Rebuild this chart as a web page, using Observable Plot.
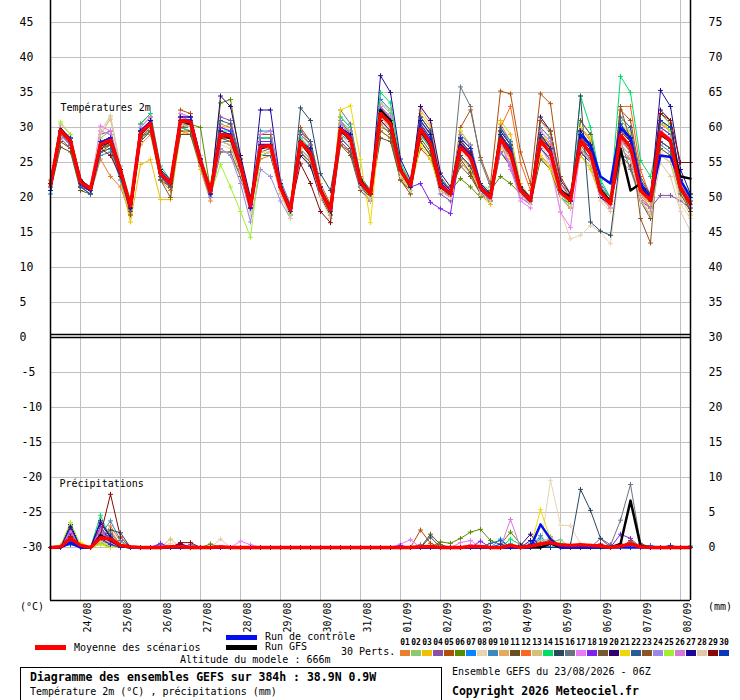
<!DOCTYPE html>
<html><head><meta charset="utf-8">
<script src="https://cdn.jsdelivr.net/npm/d3@7"></script>
<script src="https://cdn.jsdelivr.net/npm/@observablehq/plot@0.6"></script>
<style>
body{margin:0;background:#fff;}
#wrap{position:relative;width:740px;height:700px;overflow:hidden;font-family:"DejaVu Sans Mono",monospace;color:#000;background:#fff;}
#wrap svg{position:absolute;left:0;top:0;}
.t{position:absolute;white-space:pre;font-size:10px;line-height:1;transform:translateY(-50%);}
.b{font-weight:bold;font-size:11.5px;}
.bar{position:absolute;}
</style></head><body><div id="wrap"></div>
<script>
// ---- categories / labels ----
const dayLabels = ["24/08","25/08","26/08","27/08","28/08","29/08","30/08","31/08","01/09","02/09","03/09","04/09","05/09","06/09","07/09","08/09"];
const dayHours = [18,42,66,90,114,138,162,186,210,234,258,282,306,330,354,378];
const tempTicks = [0,5,10,15,20,25,30,35,40,45];
const lowTicks = [-5,-10,-15,-20,-25,-30];
const pertIds = ["01","02","03","04","05","06","07","08","09","10","11","12","13","14","15","16","17","18","19","20","21","22","23","24","25","26","27","28","29","30"];
const pertColors = ["#e8802e","#8cc86e","#f0c000","#8a4fa8","#b04e0a","#5a8a00","#0a84ff","#e8d4b0","#3a8abe","#e8a860","#6a5020","#f86820","#d4c07a","#00dc64","#284860","#687480","#e87cf8","#8020f0","#7a5830","#300070","#f0d800","#285c98","#8c5420","#9c88e8","#a0f030","#d878d8","#1c0898","#e0c8a8","#880808","#0838b8"];

// ---- 2 m temperature (°C), every 6 h from 23/08 06Z ----
const tMean = [21.8, 29.6,28.0,22.2,21.2, 27.6,28.2,23.8,18.8, 29.2,30.6,23.4,22.0, 31.0,30.8,25.2,20.8, 29.0,28.8,24.6,18.8, 27.3,27.4,21.4,18.2, 28.0,26.3,21.0,18.2, 29.8,28.4,22.2,20.5, 32.0,30.5,23.9,21.7, 29.8,27.7,21.7,20.5, 27.2,25.7,21.4,20.0, 28.4,26.3,21.0,19.6, 28.1,26.4,20.8,19.6, 28.1,26.3,20.8,19.1, 28.9,27.2,21.0,19.6, 29.3,28.1,21.4,19.1];
const tControl = [21.8, 29.6,28.2,22,21, 27.8,28.5,24,18.5, 29.5,30.8,23.5,22, 31,31,25.5,20.5, 29,29,24.5,18.5, 27.5,27.5,21.5,18, 28,26.5,21,18, 30,28.5,22,20.5, 32,30.5,24,21.5, 30,28,22,20.5, 27.5,26,21.5,20, 28.5,26.5,21,19.5, 28,26.5,21,19.5, 29,27.5,23,22, 30,28.5,22,20, 26,25.8,22.5,20];
const tGFS = [21.8, 29.8,28,22.5,21, 27.5,28,24,18.5, 29,30.5,23.5,22, 31,30.5,25,21, 29,28.5,24.5,19, 27,27.5,21.5,18.5, 28,26,21,18.5, 29.5,28.5,22.5,20.5, 32.5,31,24,21.5, 29.5,27.5,21.5,20.5, 27.5,26,21.5,20, 28.5,26.5,21,19.5, 28,26.5,21,20, 28,26.5,21,19.5, 27,21,22,19.5, 29,28,23,22.7];
const t01 = [21, 28,27,21.5,20.5, 25.5,23,21.5,17.5, 27.5,29,22.5,21, 29.5,29,24,19.5, 30.5,30,25.5,19.5, 25.5,26,20.5,17.5, 29.5,27.5,21.5,19, 28,26.5,21.5,19.5, 30,29.5,23,21, 31.5,29.5,22.5,21, 25,23.5,20.5,19, 30.5,28,21.5,20, 26,24.5,20,18.5, 30,28,21.5,19.5, 27,25.5,20.5,18.5, 31,29.5,22,19.5];
const t02 = [22.5, 30,28.5,22.5,21.5, 28.5,29.5,24.5,19.5, 30,31.5,24,22.5, 32,31.5,26,21.5, 27,26,23,19, 29,29,22,19, 26.5,24.5,20,17.5, 31.5,30,23,21, 33.5,32,24.5,22.5, 28,26,21,20, 29.5,27.5,22,21, 26.5,24.5,20.5,19.5, 30,28.5,22,20.5, 26,24.5,20,18.5, 31,29.5,22,20.5, 27,26,20.5,18.5];
const t03 = [21.5, 29,27.5,22,21.5, 26.5,27,22.5,16.5, 24.7,25.4,19.7,19.7, 29,29.5,24,20, 30,30.5,25,18, 28.5,28.5,22,18.5, 27,25.5,20.5,18.5, 30.5,29.5,23,21, 29.5,28.5,22.5,20.5, 32,30,23,21, 26,24,20.5,19, 31,29,22,20, 29.5,27.5,21,19.5, 26,24,20,18.5, 30.5,29,21.5,20, 28,27,21,18.5];
const t04 = [21, 28.5,27,21.5,21, 29,29.5,23.5,19.5, 30.5,32,24,22.5, 30,30,24.5,20.5, 31.5,31,25.5,19.5, 26,26.5,21,18, 29,27.5,21.5,18.5, 28,26.5,21.5,19.5, 33,31.5,24.5,22, 28,26,20.5,19.5, 29,27.5,22,20.5, 26.5,24.5,20,19, 28.5,27,20.5,19.5, 29,27.5,21,19.5, 25,24,19.5,18.5, 20.3,20.3,19.5,18.5];
const t05 = [22, 29.5,28.5,22.5,21.5, 27,28,24,19, 28.5,30,23,21.5, 32.5,32,25.5,21.5, 28,28,24,19.5, 28,28,22,18.5, 30,28,22,19, 27.5,26.5,21.5,20, 31,30,24,22, 27,25.5,21.5,20.5, 30,32.5,25.7,22, 35.2,34.8,26.5,22, 34.8,33.4,23,20.5, 28,26.5,21,19, 32.5,31,23,20.5, 30.5,29.5,22.5,20];
const t06 = [21.5, 29,28,22,21, 26.5,27.5,23.5,19.5, 28.5,30,23,22, 30,30.5,30,21, 33.5,34,25.5,19, 26,26.5,21,18, 27,25.5,20.5,18, 31,29,22.5,21, 30.5,29,23,21.5, 30.5,28.5,22.5,21, 22.7,21.5,20,21, 23,22,20.5,19.5, 27,25.5,20.5,19.5, 30,28.5,21.5,20, 27.5,26,20.5,19, 32,30.5,22.5,20];
const t07 = [20.5, 30,28.5,22,21, 28,28.5,23,18, 29.5,31,23,21.5, 31.5,31.5,25,20, 30,29.5,24,18, 28.5,28.5,21.5,18.5, 26.5,25,20.5,17.5, 30.5,29,22,20.5, 34,32.5,24.5,22, 29,27,21.5,20, 28,26.5,21.5,20, 30,28,21.5,19.5, 27,25.5,20,19, 31,29,22,20, 29.5,28,21.5,19.5, 28,27,21,18.5];
const t08 = [22, 30,28.5,22.5,21.5, 29,31.5,24,18.5, 30,31.5,24,22.5, 32,31,25,20.5, 27.5,27,23.5,17.5, 26,26.5,20.5,17.5, 28.5,27,21,17.5, 29,27.5,22,20, 31,30,23.5,21, 30.5,28.5,22,20.5, 26.5,25,21,19.5, 27.5,25.5,20.5,19, 28,24,18,14.1, 14.6,16,15,13.4, 25,24,19.5,18, 26.5,25,19,17];
const t09 = [21, 29,27.5,21.5,20.5, 26,26.5,22.5,18, 28,29.5,23,21.5, 30,29.5,24.5,20, 28,28,24.5,18.5, 29.5,29.5,22.5,19, 28,26.5,21,18.5, 29,28,22,20.5, 33,31.5,24.5,22, 31,29,23,21, 28.5,26,21.5,20, 29,27,21.5,20, 30,28.5,22,20.5, 28,26,21,19, 30.5,28.5,22,20, 27.5,26.5,21.5,19];
const t10 = [22.5, 29.5,28,22.5,21.5, 27,27.5,24,19, 29.5,30.5,24,22, 30,29.5,25.5,21, 29.5,29,24.5,19.5, 27,27,21.5,18.5, 29.5,28,22,18.5, 30,28.5,22.5,21, 31,29.5,24,22, 32.5,30.5,22.5,20.5, 27,25.5,22,20.5, 29.5,27.5,21.5,20, 31,29,22,20.5, 26.5,25,20.5,18.5, 28,27,21.5,20, 30.5,29.5,22,19.5];
const t11 = [21, 27.2,26.5,21,20.5, 27,27.5,23.5,19, 28,29.5,22.5,21.5, 29,29,24.5,20.5, 28,27.5,23.5,18.5, 26,26,21,18, 27,25.5,20.5,18, 28.5,27,21.5,20, 28.5,28,22.5,21, 28,26,21,20, 25.5,23.5,20.5,19.5, 26.5,24.5,20.5,19, 27,25.5,20.5,19, 27.5,25.5,20.5,19, 26,24.5,19.5,17, 28,27,21,19];
const t12 = [21.5, 30,28.5,22,21, 28,28.5,24.5,18.5, 29.5,31,23.5,22, 31.5,31,25,20.5, 29,29,24.5,19, 27.5,27.5,21.5,18, 28,26.5,21,18, 30,28.5,22,20.5, 32.5,31,24,21.5, 30,28,22,20.5, 28,26.5,21.5,20, 30,33,25,21, 29,27.5,21,19.5, 28.5,27,21,19.5, 33,33,24,20, 30,29,22,19.5];
const t13 = [22, 30.5,29,22.5,21.5, 29,31.2,24.5,19, 29,30.5,23.5,22, 31,30.5,25,21, 28.5,28,24,19, 27.5,27.5,21.5,18.5, 28,26,21,18, 29.5,28.5,22,20.5, 33.5,32.5,24.5,22, 30.5,29,22.5,21, 28,26,21.5,20, 28.5,27,21.5,20, 29,27,21,19.5, 28.5,27,21,19.5, 29,27.5,21.5,20, 26,25,20,17.5];
const t14 = [21.5, 29.5,28,22,21, 27.5,28,23.5,18.5, 30.5,32,24.5,22.5, 30,29.5,24.5,20, 29.5,29.5,25,19.5, 28.5,28.5,22,18.5, 28.5,27,21.5,18.5, 31.5,30,23,21, 35,33.5,25,22, 29,27,21.5,20.5, 27,25.5,21.5,20.5, 28.5,26.5,21,20, 25.5,24,20,19, 34.5,30,22.5,20, 37.3,35,25.3,23, 30,29,22.5,20.5];
const t15 = [21, 29,27.5,22,21, 27,28,23.5,19, 29,30.5,23,22, 31,30.5,25,20.5, 29,28.5,24.5,19, 27,27,21,18.5, 32.8,31,23.4,21, 29.5,28,22,20.5, 32,30.5,24,21.5, 29.5,27.5,21.5,20.5, 27.5,26,21.5,20, 28.5,26.5,21,19.5, 28,26.5,21,19.5, 34.5,16.5,15.2,14.6, 26,25.5,20.5,19, 29,28,21.5,19.5];
const t16 = [21.5, 29,28,22,21, 27,27.5,23,18.5, 28.5,30,23,21.5, 30.5,30,24.5,20.5, 28.5,28.5,24,18.5, 27,27,21,18, 28,26,20.5,18, 32.5,30.5,23,21, 32,30.5,24,21.5, 30,28,22,21, 35.8,33,25.3,21.5, 28,26,21,19.5, 28,26.5,20.5,19.5, 28,26,20.5,19, 28,24,20,18.5, 29,28,21.5,19];
const t17 = [22, 29.5,28,22.5,21.5, 30.2,29.5,24,19, 30,31.5,24,22.5, 32,31.5,25.5,21, 29.5,29,24.5,19, 27,27,21,18, 28,26,20.5,18, 30.5,29,22.5,20.5, 33,31.5,24,22, 31,29,22,21, 27.5,25.5,21,20, 28,24.5,19.5,18.5, 27,25,17.9,15.7, 27,25,20,18.5, 28,26.5,20.5,19, 29.5,28,21.5,18.5];
const t18 = [21.5, 29.5,28,22,21, 28,28.5,24,18.5, 29.5,31,24,22, 31.5,31.5,25.5,20.5, 30,29.5,25,19, 28,28,21.5,18, 28,26,21,18, 30,28.5,22,20.5, 33,31,24,21.5, 22,19.3,18.4,17.7, 27,25.5,21,19.5, 28,26,21,19, 28,26,20.5,19, 28.5,26.5,20.5,19, 29,27,21,19.5, 30,29,22,19.5];
const t19 = [21, 28,27,21.5,21, 27.5,27.5,23.5,17.5, 28.5,29.5,22.5,20, 30,30,24.5,20, 26.5,26.5,23,18, 26.5,27,21,17.5, 27.5,26,20.5,17.5, 27.5,26,21,19.5, 29.5,28.5,22.5,20.5, 31.5,29.5,22.5,21, 24.5,23,20.5,19.5, 28,25.5,20.5,19, 25.5,24,20,18.5, 31,29,21.5,19.5, 28.5,26.5,19.5,17.5, 27,26,20.5,18];
const t20 = [22, 30,28.5,22,21, 28,28.5,24,19, 29.5,31,23.5,22, 31,31,25,20.5, 34.5,33,26,20, 27.5,27.5,21.5,18.5, 26,24.5,20,17.5, 30,29,22.5,21, 31,29.5,23.5,21.5, 33,31,23.5,21.5, 26,24.5,21,20, 29.5,27.5,21.5,20, 31.5,29.5,22.5,20.5, 26.5,25,20,19, 30,28,21.5,20, 32.5,31,22.5,20];
const t21 = [21.5, 29.5,28,22,21, 27.5,28,23.5,19, 29,30.5,23.5,22, 30.5,30.5,25,21, 28.5,28.5,24.5,18.5, 27,27.5,21.5,18, 28,26.5,21,18, 32.5,33.1,25.4,16.4, 31.5,30,23.5,21, 27.5,25.5,21,20, 29.5,27.5,22,20.5, 27,25.5,21,20, 26,24,20.5,19, 30,28.5,21.5,19.5, 27,25.5,20.5,19, 31,29.5,22,19.5];
const t22 = [21, 29,27.5,21.5,20.5, 26.5,27,23,18, 29,30.5,23,21.5, 30.5,30.5,24.5,20.5, 31,30.5,25,19.5, 26,26,21,18, 29.5,28,21.5,18.5, 28.5,27,21.5,20, 32,30.5,23.5,21.5, 31.5,29.5,22,21, 26,24.5,21,20, 30,27.5,21.5,19.5, 27,25.5,20.5,19.5, 29.5,27.5,21.5,19.5, 31.5,30,22.5,20.5, 28,27,21.5,19];
const t23 = [22, 29.5,28,22,21, 27,27.5,23.5,18, 29,30.5,23.5,21.5, 29.5,29.5,24.5,20, 28.5,28,24,18.5, 29,29,22,18.5, 26.5,25,20.5,17.5, 29.5,28,22,20, 31.5,30,23.5,21.5, 28.5,26.5,21,20, 28,26.5,21.5,20, 29,27,21,19.5, 31,29.5,22,20, 27,25.5,20.5,19, 33,28,17,13.5, 31,30,21.5,18];
const t24 = [21.5, 29,27.5,22,21, 27.5,28,23.5,18.5, 29,30.5,23.5,22, 30.5,30,24.5,20, 27,26,22,16.5, 24,23,19.5,17, 28,26.5,21,18, 31,29.5,22.5,21, 32.5,31,24,21.5, 29.5,27.5,21.5,20, 29,27.5,22,20.5, 26.5,25,20.5,19, 28,26.5,20.5,19.5, 27,25.5,20.5,19, 29.5,28,21.5,20, 29.5,28.5,22,19.5];
const t25 = [22, 30.8,29,22.5,21.5, 28,28.5,24,19.5, 29.5,30.5,24,22, 31,30.5,25,20.5, 24.7,21.5,18,14.3, 26,26.5,21,17.5, 27.5,26,20.5,17.5, 29.5,28,22,20, 31.5,30,23.5,21, 29.5,27.5,21.5,20.5, 27.5,26,21.5,20, 29,27,21.5,19.5, 28.5,27,21,19.5, 28.5,27,21,19.5, 29.5,28,22,20, 31,29.5,22,20];
const t26 = [22, 30,28.5,22.5,21.5, 29.5,29,24,19, 30,31.5,24,22.5, 31.5,31,25,21, 29,29,24.5,19, 29,29.5,22,19, 27,25.5,20.5,18, 30,28.5,22.5,20.5, 33,31,24,21.5, 30.5,28.5,22,21, 28,26.5,21.5,20, 28,24,20,19, 29.5,28,21.5,20, 28.5,26.5,20.5,19, 27,25.5,20,18.5, 29.5,28.5,21.5,19];
const t27 = [21, 29.5,28,22,21, 27.5,28.5,24,18.5, 29.5,31,24,22.5, 31.5,31.5,25.5,21, 29.5,29,25,19, 32.5,32.5,22,18.5, 28,27,21.5,18, 30,29,22.5,20.5, 37.4,35,25.5,22.5, 31,29,22.5,21, 28.5,27,22,20.5, 29,27,21.5,20, 29,27,21,19.5, 29.5,27.5,21,19.5, 30,28.5,22,20, 35.3,33,24,20.5];
const t28 = [22, 29.5,28,22.5,21.5, 29.5,31.7,24.5,18.5, 29,30,23.5,22, 30.5,30,24.5,20.5, 28,27.5,23.5,18, 26.5,26.5,20.5,17, 27,25.5,20,17, 29,27.5,21.5,19.5, 31.5,30,23,21, 29.5,27.5,21,20, 27,25,20.5,19.5, 27.5,25.5,20.5,19, 27.5,25.5,20,18.5, 27,25,19.5,18, 27.5,26,19.5,17.5, 25,23,18,15.2];
const t29 = [22, 29.5,28,22.5,21.5, 27,26,23,18.5, 29,30.5,23.5,22, 31,30.5,25,20.5, 28.5,28.5,24.5,18.5, 27.5,27.5,21.5,18.5, 24.8,22,18,16.4, 29.5,28,22,20.5, 32,30.5,24,21.5, 29.5,27.5,21.5,20.5, 28,26.5,21.5,20.5, 29,27,21.5,20, 28.5,27,21,19.5, 28.5,27,21,19.5, 29.5,28,22,20.5, 32,31,25,25];
const t30 = [21, 29.5,28.5,22,21, 28,28.5,23.5,18.5, 29.5,30.5,23.5,22, 31,31,25,20.5, 29,29,24.5,18.5, 27.5,27.5,21.5,18, 28,26.5,21,18, 30,28.5,22,20.5, 32.5,31,24,21.5, 30.5,28.5,22,20.5, 28.5,27,22,20.5, 29,27,21.5,20, 29,27,21,19.5, 29,27,21,19.5, 30.5,28.5,22,20, 31,30,22.5,20];

// ---- precipitation (mm per 6 h): [step, mm]; steps not listed are dry ----
const pMean = [[1,0.1],[2,1.3],[3,0.3],[5,1.4],[6,1.2],[7,0.3],[8,0.1],[12,0.1],[13,0.1],[17,0.1],[37,0.1],[38,0.15],[42,0.15],[43,0.15],[46,0.3],[48,0.2],[49,0.5],[50,0.7],[51,0.4],[52,0.3],[53,0.4],[54,0.3],[55,0.2],[57,0.2],[58,0.5],[59,0.1]];
const pControl = [[2,0.7],[5,1.5],[6,1.2],[7,0.3],[49,3.3],[50,1.2]];
const pGFS = [[2,1.2],[5,1.7],[6,1.0],[7,0.2],[50,0.6],[57,0.5],[58,6.7],[59,0.3]];
const p01 = [[2,1.2],[5,1.1],[6,3.1],[7,0.8]];
const p02 = [[2,2.5],[5,0.8],[6,0.5],[46,0.6],[50,0.8],[51,1.1]];
const p03 = [[2,0.8],[3,0.7],[5,0.6],[49,1.0],[51,0.3]];
const p04 = [[2,3.0],[5,2.8],[6,0.6],[11,0.4],[14,0.4],[55,1.3],[56,0.4],[58,0.8]];
const p05 = [[2,1.5],[5,0.9],[6,0.4],[37,2.5],[38,0.6]];
const p06 = [[2,0.5],[5,0.7],[16,0.5],[39,0.8],[40,0.6],[41,1.3],[42,2.2],[43,2.6],[44,1.0],[45,0.4],[46,2.2],[47,0.5]];
const p07 = [[1,0.2],[2,0.4],[5,1.0],[6,0.3],[45,1.2],[49,1.3],[60,0.3]];
const p08 = [[2,2.0],[5,1.6],[6,0.6],[12,0.6],[50,9.6],[51,3.2],[52,3.1],[53,0.5]];
const p09 = [[2,0.6],[5,1.8],[6,3.8],[7,1.0],[46,0.5],[49,1.7]];
const p10 = [[2,1.4],[3,0.3],[5,1.2],[6,2.6],[7,0.3]];
const p11 = [[2,3.2],[5,2.4],[6,0.8],[38,1.9],[39,0.4],[50,1.5]];
const p12 = [[2,0.9],[5,0.7],[6,2.2],[7,0.4]];
const p13 = [[2,2.2],[5,0.8],[6,0.4],[12,1.2],[49,0.8],[50,1.4],[58,0.5]];
const p14 = [[2,1.0],[5,4.6],[6,1.2],[46,1.2],[47,0.4],[51,0.6]];
const p15 = [[2,1.6],[5,1.2],[6,2.5],[7,2.1],[38,1.5],[49,0.5],[52,0.4],[53,8.3],[54,5.3],[55,1.3]];
const p16 = [[2,2.4],[5,2.0],[6,2.0],[7,0.4],[37,0.4],[49,0.6],[56,0.3],[57,3.9],[58,9.0],[59,0.6]];
const p17 = [[1,0.3],[2,2.6],[5,2.2],[6,0.5],[19,0.9],[20,0.4],[35,0.5],[36,1.1],[41,0.7],[42,1.0]];
const p18 = [[2,2.0],[5,3.0],[6,1.0],[11,0.6],[13,0.6],[35,0.3],[43,0.9],[57,1.9],[58,1.3]];
const p19 = [[2,1.4],[5,1.3],[6,0.4],[50,1.0]];
const p20 = [[2,3.3],[5,3.5],[6,1.4],[13,0.5],[47,0.3],[48,1.9]];
const p21 = [[2,1.0],[3,0.7],[5,0.4],[49,5.4],[50,1.2]];
const p22 = [[2,0.6],[5,1.5],[6,1.8],[44,0.6],[45,1.0],[64,0.2]];
const p23 = [[2,1.2],[5,1.0],[6,0.5],[58,1.0]];
const p24 = [[2,2.8],[5,2.0],[6,0.7]];
const p25 = [[1,0.3],[2,3.6],[3,0.4],[5,0.5],[6,0.3]];
const p26 = [[2,2.4],[5,2.5],[6,0.6],[42,0.4],[46,4.0],[57,0.6]];
const p27 = [[2,2.9],[5,3.8],[6,1.5],[7,0.3],[48,1.0]];
const p28 = [[2,0.8],[5,0.9],[6,0.3],[17,1.2],[54,0.3]];
const p29 = [[2,1.5],[5,1.8],[6,7.6],[7,1.5],[13,0.7],[14,0.7],[55,0.5]];
const p30 = [[2,0.5],[5,1.4],[6,0.4],[45,0.5],[48,0.5],[62,0.3]];

const pertTemps = [t01,t02,t03,t04,t05,t06,t07,t08,t09,t10,t11,t12,t13,t14,t15,t16,t17,t18,t19,t20,t21,t22,t23,t24,t25,t26,t27,t28,t29,t30];
const pertPrecs = [p01,p02,p03,p04,p05,p06,p07,p08,p09,p10,p11,p12,p13,p14,p15,p16,p17,p18,p19,p20,p21,p22,p23,p24,p25,p26,p27,p28,p29,p30];

// ---- build tables ----
const NSTEP = 65, STEP_H = 6, PREC_BASE = -30; // precip panel: 0 mm sits at -30 on the shared axis
const tRows = arr => arr.map((v, i) => ({h: i * STEP_H, v}));
const pRows = ev => { const m = new Map(ev); return d3.range(NSTEP).map(i => ({h: i * STEP_H, v: (m.get(i) || 0) + PREC_BASE})); };

const yTop = 337 / 7, yBot = (337 - 600) / 7;
const marks = [];
const gridY = [...tempTicks.filter(d => d > 0), ...lowTicks];
marks.push(Plot.ruleY(gridY, {stroke: "#c0c0c0", strokeWidth: 1}));
marks.push(Plot.ruleX(dayHours, {stroke: "#c0c0c0", strokeWidth: 1}));

pertTemps.forEach((arr, k) => {
  const rows = tRows(arr);
  marks.push(Plot.line(rows, {x: "h", y: "v", stroke: pertColors[k], strokeWidth: 1}));
  marks.push(Plot.dot(rows, {x: "h", y: "v", symbol: "plus", r: 1.7, stroke: pertColors[k], strokeWidth: 1}));
});
pertPrecs.forEach((ev, k) => {
  const rows = pRows(ev);
  marks.push(Plot.line(rows, {x: "h", y: "v", stroke: pertColors[k], strokeWidth: 1}));
  marks.push(Plot.dot(rows, {x: "h", y: "v", symbol: "plus", r: 1.7, stroke: pertColors[k], strokeWidth: 1}));
});
marks.push(Plot.line(tRows(tGFS), {x: "h", y: "v", stroke: "#000", strokeWidth: 2.5}));
marks.push(Plot.line(pRows(pGFS), {x: "h", y: "v", stroke: "#000", strokeWidth: 2.5}));
marks.push(Plot.line(tRows(tControl), {x: "h", y: "v", stroke: "#0010f0", strokeWidth: 2.5}));
marks.push(Plot.line(pRows(pControl), {x: "h", y: "v", stroke: "#0010f0", strokeWidth: 2.5}));
marks.push(Plot.line(tRows(tMean), {x: "h", y: "v", stroke: "#ff0000", strokeWidth: 3.5}));
marks.push(Plot.line(pRows(pMean), {x: "h", y: "v", stroke: "#ff0000", strokeWidth: 3.5}));

// frame & separator
marks.push(Plot.ruleX([0, 384], {stroke: "#000", strokeWidth: 1.5}));
marks.push(Plot.ruleY([yBot], {stroke: "#000", strokeWidth: 1.5}));
marks.push(Plot.ruleY([0, 0.43], {stroke: "#000", strokeWidth: 1.5}));

// tick labels
marks.push(Plot.text(tempTicks, {y: d => d, text: d => String(d), frameAnchor: "left", dx: -31, textAnchor: "start", fontSize: 11.5}));
marks.push(Plot.text(lowTicks, {y: d => d, text: d => String(d), frameAnchor: "left", dx: -29, textAnchor: "start", fontSize: 11.5}));
marks.push(Plot.text(tempTicks, {y: d => d, text: d => String(d + 30), frameAnchor: "right", dx: 18, textAnchor: "start", fontSize: 11.5}));
marks.push(Plot.text(lowTicks, {y: d => d, text: d => String(d + 30), frameAnchor: "right", dx: 18, textAnchor: "start", fontSize: 11.5}));
marks.push(Plot.text(dayHours.map((h, i) => ({h, label: dayLabels[i]})), {x: "h", text: "label", frameAnchor: "bottom", rotate: -90, textAnchor: "end", lineAnchor: "bottom", dx: 10.5, dy: 2, fontSize: 10}));
marks.push(Plot.text(["Températures 2m"], {x: 6, y: 32.3, text: d => d, textAnchor: "start", lineAnchor: "bottom", fontSize: 10}));
marks.push(Plot.text(["Précipitations"], {x: 5.4, y: -21.3, text: d => d, textAnchor: "start", lineAnchor: "bottom", fontSize: 10}));

const chart = Plot.plot({
  width: 740, height: 645,
  marginLeft: 50, marginRight: 50, marginTop: 0, marginBottom: 45,
  x: {domain: [0, 384], axis: null},
  y: {domain: [yBot, yTop], axis: null},
  style: {fontFamily: "DejaVu Sans Mono, monospace", background: "white", overflow: "visible"},
  marks
});
const wrap = document.getElementById("wrap");
wrap.appendChild(chart);

// ---- legend & captions (HTML below the plot area) ----
function txt(s, left, cy, cls) { const d = document.createElement("div"); d.className = "t" + (cls ? " " + cls : ""); d.textContent = s; d.style.left = left + "px"; d.style.top = cy + "px"; wrap.appendChild(d); return d; }
function bar(left, top, w, h, bg, border) { const d = document.createElement("div"); d.className = "bar"; Object.assign(d.style, {left: left + "px", top: top + "px", width: w + "px", height: h + "px", background: bg || "transparent"}); if (border) d.style.border = border; wrap.appendChild(d); return d; }
txt("(°C)", 20, 607);
txt("(mm)", 708, 607);
bar(35, 645, 31, 4.5, "#ff0000");
txt("Moyenne des scénarios", 74, 647.5);
bar(226, 635, 31, 4.5, "#0010f0");
txt("Run de contrôle", 265, 637);
bar(226, 645, 31, 4.5, "#000");
txt("Run GFS", 265, 647);
txt("30 Perts.", 341, 652);
pertIds.forEach((id, k) => {
  const n = txt(id, 400 + 11 * k + 5, 643);
  n.style.fontSize = "8px"; n.style.fontWeight = "bold"; n.style.transform = "translate(-50%,-50%)";
  bar(400 + 11 * k, 650, 10, 6, pertColors[k]);
});
txt("Altitude du modele : 666m", 180, 660);
bar(20, 667, 420, 40, "transparent", "1.5px solid #000");
txt("Diagramme des ensembles GEFS sur 384h : 38.9N 0.9W", 30, 677.5, "b");
txt("Température 2m (°C) , précipitations (mm)", 30, 692);
txt("Ensemble GEFS du 23/08/2026 - 06Z", 452, 672);
txt("Copyright 2026 Meteociel.fr", 452, 692, "b");
</script></body></html>
